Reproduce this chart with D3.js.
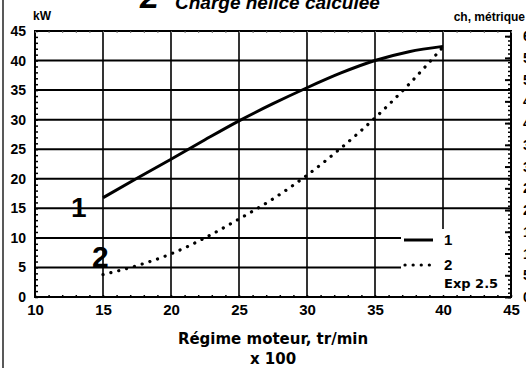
<!DOCTYPE html>
<html>
<head>
<meta charset="utf-8">
<script src="https://cdn.jsdelivr.net/npm/d3@7"></script>
<style>
  html, body { margin: 0; padding: 0; background: #fff; }
  svg { display: block; }
  text { font-family: "Liberation Sans", Arial, sans-serif; font-weight: bold; fill: #000; }
  .wide { font-family: "DejaVu Sans", sans-serif; }
</style>
</head>
<body>
<svg id="chart" width="526" height="368"></svg>
<script>
// Engine speed (x 100 tr/min) and power (kW)
const rpm1 = [15, 17.5, 20, 22.5, 25, 27.5, 30, 32.5, 35, 37.5, 40];
const kw1  = [16.8, 20.1, 23.3, 26.6, 29.8, 32.7, 35.4, 37.9, 40.0, 41.5, 42.4];
const rpm2 = [15, 17.5, 20, 22.5, 25, 27.5, 30, 32.5, 35, 37.5, 40];
const kw2  = [3.8, 5.3, 7.3, 10.0, 13.2, 16.6, 20.6, 25.2, 30.3, 36.0, 42.3];

const xTicks  = [10, 15, 20, 25, 30, 35, 40, 45];
const kwTicks = [0, 5, 10, 15, 20, 25, 30, 35, 40, 45];
const chTicks = [0, 5, 10, 15, 20, 25, 30, 35, 40, 45, 50, 55, 60];
const KW_PER_CH = 0.7355;

const svg = d3.select("#chart");
const L = 35, R = 511, T = 31, B = 297;

const x = d3.scaleLinear().domain([10, 45]).range([L, R]);
const y = d3.scaleLinear().domain([0, 45]).range([B, T]);
const yCh = d3.scaleLinear().domain([0, 45 / KW_PER_CH]).range([B, T]);

// frame line on the left
svg.append("line").attr("x1", 3).attr("x2", 3).attr("y1", 0).attr("y2", 368)
  .attr("stroke", "#222").attr("stroke-width", 1.5);

// title (runs off the top of the page)
svg.append("text").attr("x", 140).attr("y", 8).attr("font-size", 34)
  .attr("font-style", "italic").text("2");
svg.append("text").attr("x", 175).attr("y", 9).attr("font-size", 19)
  .attr("font-style", "italic").text("Charge hélice calculée");

// grid
const grid = svg.append("g");
kwTicks.forEach(v => {
  grid.append("line").attr("x1", L).attr("x2", R).attr("y1", y(v)).attr("y2", y(v))
    .attr("stroke", "#000").attr("stroke-width", 2);
});
xTicks.forEach(v => {
  grid.append("line").attr("x1", x(v)).attr("x2", x(v)).attr("y1", T).attr("y2", B)
    .attr("stroke", "#000").attr("stroke-width", 1.6);
});

// blank area behind the legend
svg.append("rect").attr("x", 401).attr("y", 229).attr("width", R - 401 - 2).attr("height", B - 229 - 1)
  .attr("fill", "#fff");

// axes frame
svg.append("rect").attr("x", L).attr("y", T).attr("width", R - L).attr("height", B - T)
  .attr("fill", "none").attr("stroke", "#000").attr("stroke-width", 2);

// left axis (kW) with minor ticks
svg.append("g").attr("transform", `translate(${L},0)`)
  .call(d3.axisRight(y).tickValues(d3.range(0, 46, 1)).tickSize(3).tickFormat(""))
  .call(g => g.select(".domain").remove())
  .selectAll("line").attr("stroke-width", 1.5);
svg.append("g").attr("transform", `translate(${L},0)`)
  .call(d3.axisLeft(y).tickValues(kwTicks).tickSize(0).tickPadding(9))
  .call(g => g.select(".domain").remove())
  .selectAll("text").attr("font-size", 14).attr("font-family", "Liberation Sans, Arial")
  .attr("font-weight", "bold");

// right axis (ch) with minor ticks
svg.append("g").attr("transform", `translate(${R},0)`)
  .call(d3.axisLeft(yCh).tickValues(d3.range(0, 61, 1)).tickSize(3).tickFormat(""))
  .call(g => g.select(".domain").remove())
  .selectAll("line").attr("stroke-width", 1.5);
svg.append("g").attr("transform", `translate(${R},0)`)
  .call(d3.axisRight(yCh).tickValues(chTicks).tickSize(-6).tickPadding(12))
  .call(g => g.select(".domain").remove())
  .call(g => g.selectAll("line").attr("stroke-width", 2))
  .selectAll("text").attr("font-size", 14).attr("font-family", "Liberation Sans, Arial")
  .attr("font-weight", "bold");

// bottom / top minor ticks
svg.append("g").attr("transform", `translate(0,${B})`)
  .call(d3.axisTop(x).tickValues(d3.range(10, 46, 1)).tickSize(2).tickFormat(""))
  .call(g => g.select(".domain").remove())
  .selectAll("line").attr("stroke-width", 1.5);
svg.append("g").attr("transform", `translate(0,${T})`)
  .call(d3.axisBottom(x).tickValues(d3.range(10, 46, 1)).tickSize(2).tickFormat(""))
  .call(g => g.select(".domain").remove())
  .selectAll("line").attr("stroke-width", 1).attr("stroke", "#666");
svg.append("g").attr("transform", `translate(0,${B})`)
  .call(d3.axisBottom(x).tickValues(xTicks).tickSize(0).tickPadding(7))
  .call(g => g.select(".domain").remove())
  .selectAll("text").attr("font-size", 15).attr("font-family", "Liberation Sans, Arial")
  .attr("font-weight", "bold");

// axis titles
svg.append("text").attr("x", 33).attr("y", 20).attr("font-size", 12).text("kW");
svg.append("text").attr("x", 525).attr("y", 21).attr("font-size", 12)
  .attr("text-anchor", "end").text("ch, métrique");
svg.append("text").attr("class", "wide").attr("x", 273).attr("y", 344).attr("font-size", 15)
  .attr("text-anchor", "middle").text("Régime moteur, tr/min");
svg.append("text").attr("class", "wide").attr("x", 273).attr("y", 364).attr("font-size", 15)
  .attr("text-anchor", "middle").text("x 100");

// curves
const line = d3.line().x(d => x(d[0])).y(d => y(d[1])).curve(d3.curveMonotoneX);
svg.append("path").datum(d3.zip(rpm1, kw1)).attr("d", line)
  .attr("fill", "none").attr("stroke", "#000").attr("stroke-width", 3);
svg.append("path").datum(d3.zip(rpm2, kw2)).attr("d", line)
  .attr("fill", "none").attr("stroke", "#000").attr("stroke-width", 3.2)
  .attr("stroke-linecap", "round").attr("stroke-dasharray", "0.1 8");

// curve numbers
svg.append("text").attr("x", 71).attr("y", 217).attr("font-size", 28).text("1");
svg.append("text").attr("x", 92).attr("y", 267).attr("font-size", 30).text("2");

// legend
svg.append("line").attr("x1", 404).attr("x2", 433).attr("y1", 240).attr("y2", 240)
  .attr("stroke", "#000").attr("stroke-width", 3);
svg.append("text").attr("x", 444).attr("y", 245).attr("font-size", 15).text("1");
svg.append("line").attr("x1", 405).attr("x2", 432).attr("y1", 265).attr("y2", 265)
  .attr("stroke", "#000").attr("stroke-width", 3.2)
  .attr("stroke-linecap", "round").attr("stroke-dasharray", "0.1 8");
svg.append("text").attr("x", 444).attr("y", 270).attr("font-size", 15).text("2");
svg.append("text").attr("class", "wide").attr("x", 444).attr("y", 288).attr("font-size", 13).text("Exp 2.5");
</script>
</body>
</html>
